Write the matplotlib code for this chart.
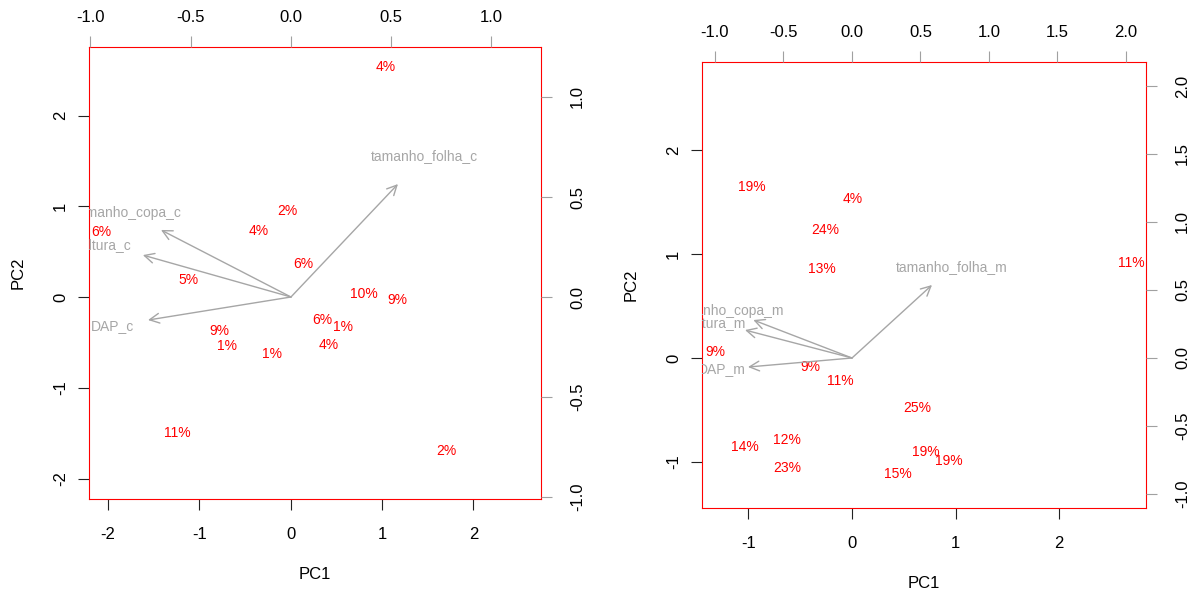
import matplotlib
matplotlib.use("Agg")
import matplotlib.pyplot as plt

plt.rcParams['font.family'] = ['Liberation Sans', 'DejaVu Sans']
plt.rcParams['axes.unicode_minus'] = False

# Biplot esquerdo (variaveis _c)
esq_rotulos = ['4%', '2%', '4%', '6%', '6%', '5%', '10%', '9%', '6%', '1%',
               '9%', '1%', '4%', '1%', '11%', '2%']
esq_x = [1.04, -0.04, -0.35, -2.07, 0.14, -1.12, 0.80, 1.17, 0.35, 0.57,
         -0.78, -0.70, 0.41, -0.21, -1.24, 1.70]
esq_y = [2.53, 0.95, 0.73, 0.72, 0.36, 0.19, 0.03, -0.03, -0.25, -0.33,
         -0.37, -0.54, -0.53, -0.63, -1.50, -1.70]
esq_vars = ['tamanho_folha_c', 'tamanho_copa_c', 'altura_c', 'DAP_c']
esq_load_x = [0.667, -0.810, -0.923, -0.891]
esq_load_y = [0.706, 0.419, 0.262, -0.144]

# Biplot direito (variaveis _m)
dir_rotulos = ['19%', '4%', '24%', '13%', '11%', '9%', '9%', '11%', '25%',
               '14%', '12%', '23%', '19%', '19%', '15%']
dir_x = [-0.966, 0.01, -0.26, -0.29, 2.70, -1.32, -0.40, -0.116, 0.628,
         -1.03, -0.63, -0.63, 0.715, 0.94, 0.444]
dir_y = [1.644, 1.53, 1.23, 0.856, 0.913, 0.058, -0.087, -0.221, -0.48,
         -0.856, -0.788, -1.058, -0.904, -0.99, -1.115]
dir_vars = ['tamanho_folha_m', 'tamanho_copa_m', 'altura_m', 'DAP_m']
dir_load_x = [0.730, -0.900, -0.976, -0.949]
dir_load_y = [0.671, 0.349, 0.257, -0.083]

fig = plt.figure(figsize=(11.93, 6.01), dpi=100)


def biplot(pos, rot, xs, ys, vars_, lx, ly, lim, lim2, ticks, ticks2):
    ax = fig.add_axes(pos)
    ax.set_xticks(ticks)
    ax.set_yticks(ticks)
    ax.set_xlim(lim[0])
    ax.set_ylim(lim[1])
    for s in ax.spines.values():
        s.set_color('red')
    ax.tick_params(axis='x', length=8, labelsize=12, pad=12, color='#222222')
    ax.tick_params(axis='y', length=8, labelsize=12, pad=7, color='#222222',
                   labelrotation=90)
    for t in ax.get_yticklabels():
        t.set_va('center')
    ax.set_xlabel('PC1', fontsize=12, labelpad=18)
    ax.set_ylabel('PC2', fontsize=12, labelpad=20)
    for r, x, y in zip(rot, xs, ys):
        ax.text(x, y, r, color='red', fontsize=10, ha='center', va='center')

    ax2 = fig.add_axes(pos, frameon=False)
    ax2.xaxis.tick_top()
    ax2.yaxis.tick_right()
    ax2.set_xticks(ticks2)
    ax2.set_yticks(ticks2)
    ax2.set_xticklabels(['%.1f' % t for t in ticks2])
    ax2.set_yticklabels(['%.1f' % t for t in ticks2])
    ax2.set_xlim(lim2[0])
    ax2.set_ylim(lim2[1])
    ax2.tick_params(axis='x', length=8, labelsize=12, pad=8, color='#a0a0a0')
    ax2.tick_params(axis='y', length=8, labelsize=12, pad=13, color='#a0a0a0',
                    labelrotation=90)
    for t in ax2.get_yticklabels():
        t.set_va('center')
    for v, x, y in zip(vars_, lx, ly):
        ax2.annotate('', xy=(0.8 * x, 0.8 * y), xytext=(0, 0),
                     arrowprops=dict(arrowstyle='->,head_length=0.7,head_width=0.35',
                                     color='#a6a6a6', lw=1, shrinkA=0, shrinkB=0))
        ax2.text(x, y, v, color='#a6a6a6', fontsize=10, ha='center', va='center',
                 clip_on=True)


biplot([0.0746, 0.1697, 0.3789, 0.7521], esq_rotulos, esq_x, esq_y,
       esq_vars, esq_load_x, esq_load_y,
       [(-2.21, 2.74), (-2.226, 2.755)], [(-1.007, 1.247), (-1.01, 1.25)],
       [-2, -1, 0, 1, 2], [-1.0, -0.5, 0.0, 0.5, 1.0])

biplot([0.5884, 0.1547, 0.3722, 0.7421], dir_rotulos, dir_x, dir_y,
       dir_vars, dir_load_x, dir_load_y,
       [(-1.449, 2.84), (-1.442, 2.846)], [(-1.095, 2.146), (-1.103, 2.176)],
       [-1, 0, 1, 2], [-1.0, -0.5, 0.0, 0.5, 1.0, 1.5, 2.0])

fig.savefig('out.png', dpi=100)
